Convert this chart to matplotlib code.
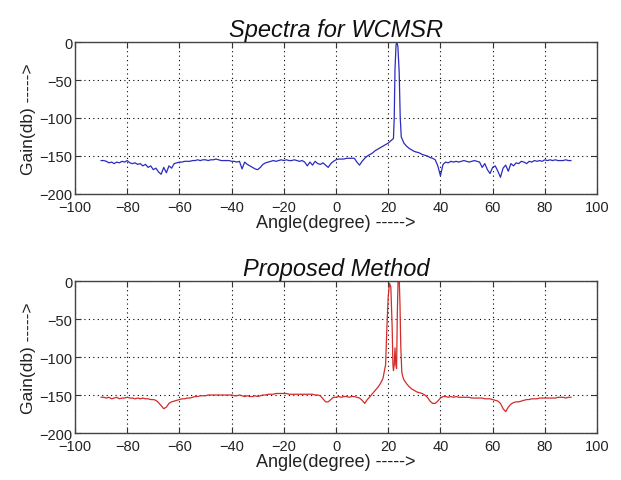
import matplotlib
matplotlib.use("Agg")
import matplotlib.pyplot as plt

# ---- data ----
wcmsr_angle = [-90,-89,-88,-87,-86,-85,-84,-83,-82,-81,-80,-79,-78,-77,-76,-75,-74,-73,-72,-71,
               -70,-69,-68,-67,-66,-65,-64,-63,-62,-61,-60,-59,-58,-57,-56,-55,-54,-53,-52,-51,
               -50,-49,-48,-47,-46,-45,-44,-43,-42,-41,-40,-39,-38,-37,-36,-35,-34,-33,-32,-31,
               -30,-29,-28,-27,-26,-25,-24,-23,-22,-21,-20,-19,-18,-17,-16,-15,-14,-13,-12,-11,
               -10,-9,-8,-7,-6,-5,-4,-3,-2,-1,0,1,2,3,4,5,6,7,8,9,
               10,11,12,13,14,15,16,17,18,19,20,21,22,22.3,22.6,23.0,23.3,23.7,24.2,24.6,25.0,25.5,
               26,27,28,29,30,31,32,33,34,35,36,37,38,39,40,41,42,43,44,45,46,47,48,49,
               50,51,52,53,54,55,56,57,58,59,60,61,62,63,64,65,66,67,68,69,
               70,71,72,73,74,75,76,77,78,79,80,81,82,83,84,85,86,87,88,89,90]
wcmsr_gain = [-156,-156,-157,-159,-158,-160,-158,-159,-157,-158,-156,-159,-160,-159,-161,-160,-163,-161,-165,-163,
              -168,-166,-171,-174,-165,-172,-163,-166,-160,-159,-158,-158,-157,-157,-157,-156,-156,-155,-156,-155,
              -155,-156,-155,-155,-154,-155,-156,-156,-156,-156,-157,-157,-158,-157,-167,-158,-161,-163,-165,-167,
              -168,-165,-161,-159,-158,-157,-156,-157,-156,-155,-156,-155,-156,-156,-155,-156,-157,-156,-158,-163,
              -158,-162,-157,-160,-161,-159,-162,-165,-160,-157,-155,-154,-154,-154,-153,-153,-153,-153,-158,-162,
              -157,-153,-150,-148,-146,-143,-141,-139,-137,-135,-133,-130,-127,-100,-35,-4,0,-6,-40,-100,-125,-129,
              -133,-137,-140,-142,-144,-145,-146,-148,-149,-150,-152,-153,-155,-163,-176,-161,-158,-159,-157,-158,-157,-158,-157,-156,
              -157,-158,-157,-156,-157,-158,-165,-160,-168,-173,-165,-163,-170,-178,-166,-162,-170,-160,-163,-159,
              -160,-157,-158,-160,-157,-158,-156,-157,-156,-157,-155,-156,-155,-156,-155,-156,-156,-156,-155,-156,-156]

prop_angle = [-90,-89,-88,-87,-86,-85,-84,-83,-82,-81,-80,-79,-78,-77,-76,-75,-74,-73,-72,-71,
              -70,-69,-68,-67,-66,-65,-64,-63,-62,-61,-60,-59,-58,-57,-56,-55,-54,-53,-52,-51,
              -50,-49,-48,-47,-46,-45,-44,-43,-42,-41,-40,-39,-38,-37,-36,-35,-34,-33,-32,-31,
              -30,-29,-28,-27,-26,-25,-24,-23,-22,-21,-20,-19,-18,-17,-16,-15,-14,-13,-12,-11,
              -10,-9,-8,-7,-6,-5,-4,-3,-2,-1,0,1,2,3,4,5,6,7,8,9,
              10,11,12,13,14,15,16,17,18,19,19.5,20.0,20.5,21.0,21.5,21.8,22.0,22.3,22.6,22.9,23.2,23.5,
              23.8,24.2,24.5,24.8,25.2,25.6,
              26,27,28,29,30,31,32,33,34,35,36,37,38,39,40,41,42,43,44,45,46,47,48,49,
              50,51,52,53,54,55,56,57,58,59,60,61,62,63,64,65,66,67,68,69,
              70,71,72,73,74,75,76,77,78,79,80,81,82,83,84,85,86,87,88,89,90]
prop_gain = [-153,-153,-154,-153,-155,-154,-153,-155,-154,-154,-153,-154,-154,-155,-154,-155,-154,-155,-155,-156,
             -156,-157,-160,-164,-168,-166,-161,-159,-158,-157,-156,-155,-155,-154,-154,-153,-152,-152,-151,-151,
             -151,-150,-150,-150,-150,-150,-150,-150,-150,-150,-150,-151,-151,-150,-151,-152,-151,-152,-152,-151,
             -152,-151,-150,-150,-149,-149,-149,-148,-148,-148,-148,-148,-149,-149,-149,-149,-149,-149,-149,-149,
             -149,-149,-150,-150,-151,-155,-159,-159,-156,-153,-153,-152,-153,-152,-152,-153,-152,-152,-153,-154,
             -157,-161,-156,-152,-148,-144,-140,-135,-128,-110,-60,-20,-3,-8,-60,-110,-118,-110,-88,-110,-115,-40,
             5,5,-30,-85,-120,-126,
             -130,-135,-139,-142,-144,-146,-147,-148,-150,-153,-158,-161,-161,-158,-154,-152,-152,-153,-152,-153,-152,-153,-153,-153,
             -153,-153,-154,-154,-154,-154,-154,-155,-155,-155,-156,-157,-158,-161,-168,-172,-166,-162,-160,-159,
             -159,-158,-157,-156,-156,-155,-155,-155,-154,-154,-154,-154,-154,-154,-154,-153,-153,-153,-154,-153,-153]

titles = ["Spectra for WCMSR", "Proposed Method"]
xlabel = "Angle(degree) ----->"
ylabel = "Gain(db) ----->"
xticks = [-100, -80, -60, -40, -20, 0, 20, 40, 60, 80, 100]
yticks = [0, -50, -100, -150, -200]

plt.rcParams['font.family'] = ['Liberation Sans', 'DejaVu Sans']

fig = plt.figure(figsize=(6.21, 4.81), dpi=100)
fig.patch.set_facecolor('white')

positions = [[0.1208, 0.5946, 0.8406, 0.316], [0.1208, 0.0977, 0.8406, 0.316]]
series = [(wcmsr_angle, wcmsr_gain, '#2b2bc0'), (prop_angle, prop_gain, '#d42a2a')]

for pos, (xa, ya, col), title in zip(positions, series, titles):
    ax = fig.add_axes(pos)
    ax.plot(xa, ya, color=col, linewidth=0.9)
    ax.set_xlim(-100, 100)
    ax.set_ylim(-200, 0)
    ax.set_xticks(xticks)
    ax.set_yticks(yticks)
    ax.tick_params(direction='in', top=True, right=True, labelsize=10.5, length=4,
                   color='#333333', labelcolor='#222222')
    ax.tick_params(axis='x', pad=4)
    ax.tick_params(axis='y', pad=2)
    ax.grid(True, color='black', linestyle=(0, (1, 3)), linewidth=0.8)
    for s in ax.spines.values():
        s.set_color('#444444')
        s.set_linewidth(1.0)
    ax.set_title(title, fontsize=17, style='italic', pad=4, color='#111111')
    ax.set_xlabel(xlabel, fontsize=13, labelpad=0, color='#222222')
    ax.set_ylabel(ylabel, fontsize=12.5, labelpad=2, color='#222222')

fig.savefig('out.png', dpi=100)
